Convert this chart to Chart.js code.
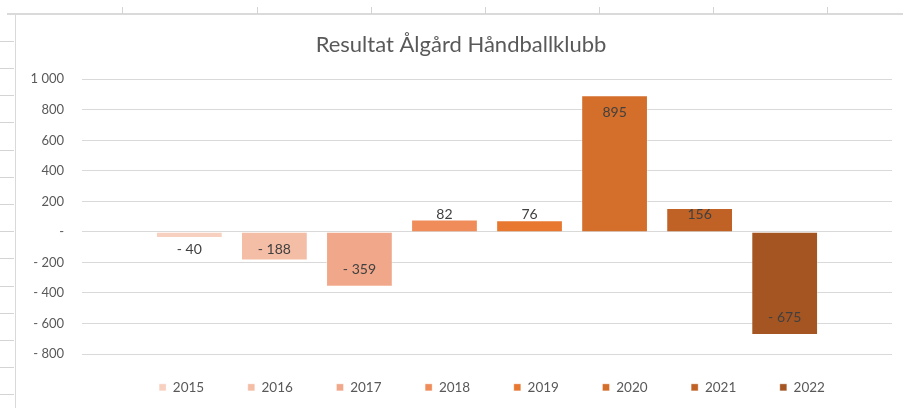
<!DOCTYPE html>
<html>
<head>
<meta charset="utf-8">
<script src="https://cdn.jsdelivr.net/npm/chart.js@4/dist/chart.umd.min.js"></script>
<style>
  html, body { margin: 0; padding: 0; background: #fff; overflow: hidden; }
  body { width: 903px; height: 408px; position: relative; }
  .sheet-top { position: absolute; left: 7px; top: 13px; width: 896px; height: 2px; background: #dadada; }
  .col { position: absolute; top: 7px; width: 1px; height: 7px; background: #d4d4d4; }
  .row { position: absolute; left: 0; width: 14px; height: 1px; background: #d4d4d4; }
  .frame-left { position: absolute; left: 15px; top: 15px; width: 1px; height: 393px; background: #d9d9d9; }
  #wrap { position: absolute; left: 16px; top: 15px; width: 893px; height: 393px; }
</style>
</head>
<body>
<div class="sheet-top"></div>
<div class="frame-left"></div>
<div id="wrap"><canvas id="resultChart"></canvas></div>

<script>
const years = ["2015", "2016", "2017", "2018", "2019", "2020", "2021", "2022"];
const results = [-40, -188, -359, 82, 76, 895, 156, -675];
const barColors = ["#F8D0C0", "#F4BDA6", "#F1A88A", "#EF8C5A", "#E87830", "#D46E2B", "#C06126", "#A55522"];
const yTicks = { min: -800, max: 1000, step: 200 };

// spreadsheet cell lines behind the chart
[122, 257, 371, 485, 599, 713, 827].forEach((x) => {
  const d = document.createElement("div");
  d.className = "col";
  d.style.left = x + "px";
  document.body.appendChild(d);
});
[41, 68, 95, 122, 150, 177, 204, 231, 258, 286, 313, 340, 367, 394].forEach((y) => {
  const d = document.createElement("div");
  d.className = "row";
  d.style.top = y + "px";
  document.body.appendChild(d);
});

// norwegian style: "1 000", "- 200", "-" for zero
function fmt(v) {
  if (v === 0) return "-";
  const s = Math.abs(v).toString().replace(/\B(?=(\d{3})+(?!\d))/g, " ");
  return v < 0 ? "- " + s : s;
}

const FONT = "Lato, 'Noto Sans', sans-serif";

// excel style "inside end" labels, pushed off the zero line when the bar is short
const barLabels = {
  id: "barLabels",
  afterDatasetsDraw(chart) {
    const ctx = chart.ctx;
    ctx.save();
    ctx.font = "14px " + FONT;
    ctx.fillStyle = "#404040";
    ctx.textAlign = "center";
    ctx.textBaseline = "middle";
    chart.data.datasets.forEach((ds, i) => {
      const meta = chart.getDatasetMeta(i);
      meta.data.forEach((bar, j) => {
        const len = bar.y - bar.base;
        const off = Math.max(Math.abs(len) - 17, 17);
        const y = bar.base + Math.sign(len) * off;
        ctx.fillText(fmt(ds.data[j]), bar.x, y);
      });
    });
    ctx.restore();
  },
};

// legend padding is wide for the horizontal spacing, pull the items back up
const legendLift = {
  id: "legendLift",
  afterLayout(chart) {
    chart.legend.top -= 17;
    chart.legend.bottom += 10;
    chart.legend.left += 5;
    chart.legend.right += 5;
  },
};

const ctx = document.getElementById("resultChart").getContext("2d");
new Chart(ctx, {
  type: "bar",
  data: {
    labels: [""],
    datasets: years.map((y, i) => ({
      label: y,
      data: [results[i]],
      backgroundColor: barColors[i],
      borderColor: "rgba(255,255,255,0.35)",
      borderWidth: 1,
    })),
  },
  options: {
    responsive: true,
    maintainAspectRatio: false,
    animation: false,
    categoryPercentage: 0.84,
    barPercentage: 0.785,
    layout: { padding: { left: 14, right: 17, top: 0, bottom: 0 } },
    scales: {
      x: { display: false },
      y: {
        min: yTicks.min,
        max: yTicks.max,
        afterFit: (scale) => { scale.width = 52; },
        ticks: {
          stepSize: yTicks.step,
          padding: 18,
          color: "#595959",
          font: { family: FONT, size: 13 },
          callback: (v) => fmt(v),
        },
        grid: { color: "#d9d9d9", lineWidth: 1, drawTicks: false },
        border: { display: false },
      },
    },
    plugins: {
      title: {
        display: true,
        text: "Resultat Ålgård Håndballklubb",
        color: "#595959",
        font: { family: FONT, size: 22, weight: "normal" },
        padding: { top: 16.8, bottom: 21.1 },
      },
      legend: {
        position: "bottom",
        fullSize: false,
        maxHeight: 54,
        labels: {
          boxWidth: 7,
          boxHeight: 7,
          padding: 43.6,
          color: "#595959",
          font: { family: FONT, size: 13.5 },
        },
      },
      tooltip: { enabled: false },
    },
  },
  plugins: [barLabels, legendLift],
});
</script>
</body>
</html>
